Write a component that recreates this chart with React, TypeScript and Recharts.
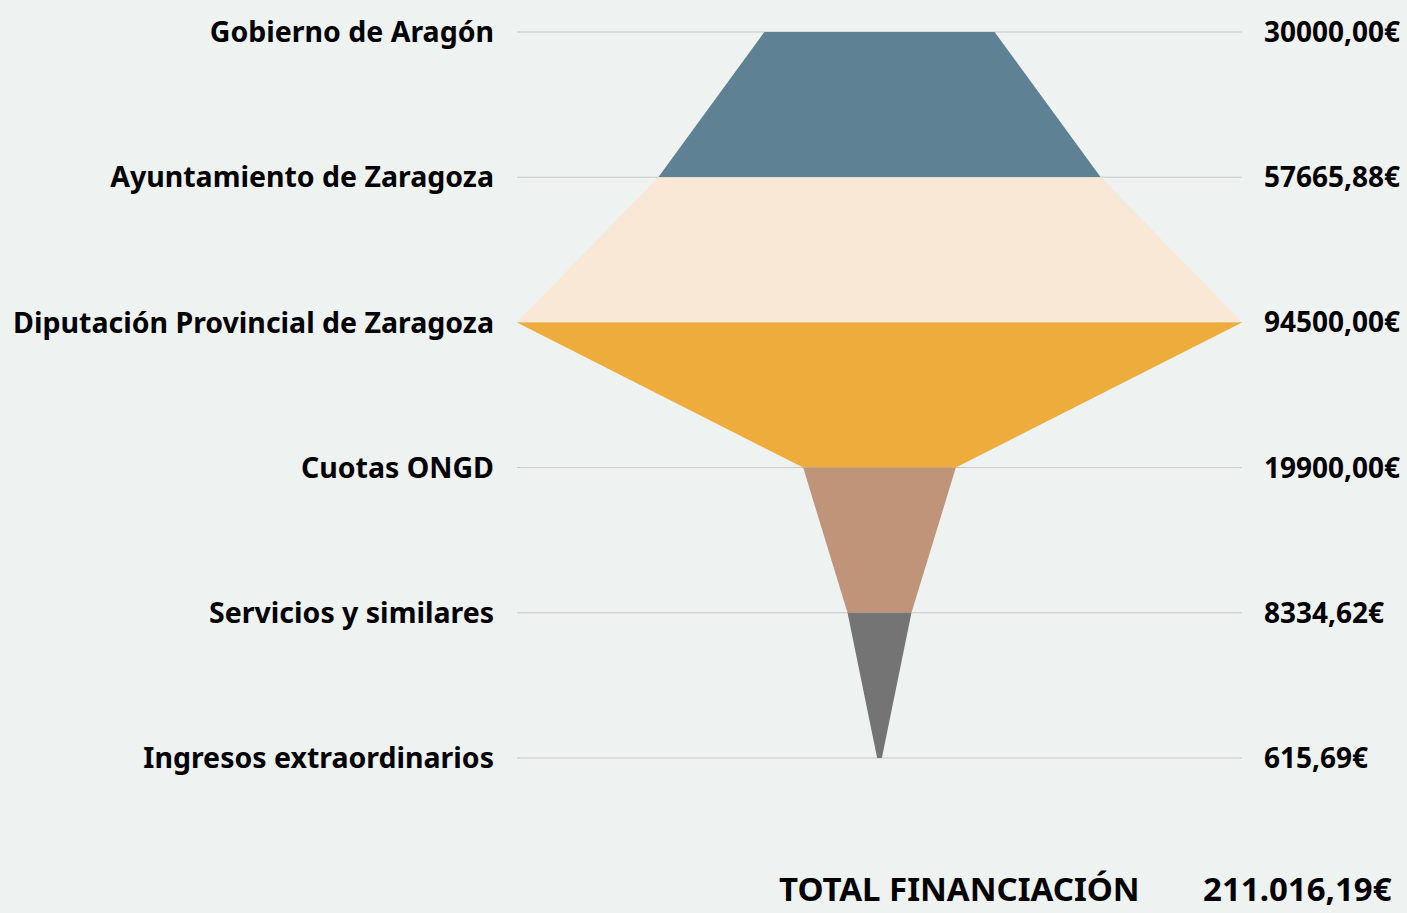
import React from "react";
import { ComposedChart, Area, XAxis, YAxis, CartesianGrid } from "recharts";

const categories = [
  "Gobierno de Aragón",
  "Ayuntamiento de Zaragoza",
  "Diputación Provincial de Zaragoza",
  "Cuotas ONGD",
  "Servicios y similares",
  "Ingresos extraordinarios",
];
const amounts = [30000, 57665.88, 94500, 19900, 8334.62, 615.69];
const segmentColors = ["#5e8294", "#f8e8d5", "#eeac3c", "#c09479", "#747474"];
const totalLabel = "TOTAL FINANCIACIÓN";

const fmt = (v: number) => v.toFixed(2).replace(".", ",") + "€";
const fmtThousands = (v: number) => {
  const [i, d] = v.toFixed(2).split(".");
  return i.replace(/\B(?=(\d{3})+(?!\d))/g, ".") + "," + d + "€";
};
const total = amounts.reduce((a, b) => a + b, 0);
const maxV = Math.max(...amounts);

const data = categories.map((c, idx) => {
  const row: any = { idx, name: c };
  const v = amounts[idx];
  for (let s = 0; s < segmentColors.length; s++) {
    row["s" + s] = idx === s || idx === s + 1 ? [-v / 2, v / 2] : null;
  }
  return row;
});

const font = "'Noto Sans', 'Open Sans', sans-serif";

export default function App() {
  return (
    <div
      style={{
        position: "fixed",
        left: 0,
        top: 0,
        width: 1407,
        height: 913,
        background: "#eef2f0",
        fontFamily: font,
        overflow: "hidden",
      }}
    >
      <div style={{ position: "absolute", left: 8, top: 8 }}>
        <ComposedChart
          width={1399}
          height={905}
          data={data}
          layout="vertical"
          margin={{ top: 24, right: 0, bottom: 155, left: 0 }}
        >
          <CartesianGrid horizontal vertical={false} stroke="#c8c8c8" />
          <XAxis type="number" hide domain={[-maxV / 2, maxV / 2]} />
          <YAxis
            yAxisId="left"
            orientation="left"
            type="number"
            dataKey="idx"
            domain={[0, categories.length - 1]}
            ticks={categories.map((_, i) => i)}
            width={509}
            axisLine={false}
            tickLine={false}
            tickSize={0}
            tickMargin={23}
            tickFormatter={(i: number) => categories[i]}
            tick={{ fill: "#000", fontSize: 28.5, fontWeight: 700, fontFamily: font }}
          />
          <YAxis
            yAxisId="right"
            orientation="right"
            type="number"
            dataKey="idx"
            domain={[0, categories.length - 1]}
            ticks={categories.map((_, i) => i)}
            width={165}
            axisLine={false}
            tickLine={false}
            tickSize={0}
            tickMargin={22}
            tickFormatter={(i: number) => fmt(amounts[i])}
            tick={{ fill: "#000", fontSize: 28, fontWeight: 700, fontFamily: font }}
          />
          {segmentColors.map((col, s) => (
            <Area
              key={s}
              yAxisId="left"
              dataKey={"s" + s}
              fill={col}
              fillOpacity={1}
              stroke="none"
              isAnimationActive={false}
              dot={false}
              activeDot={false}
              type="linear"
            />
          ))}
        </ComposedChart>
      </div>
      <div
        style={{
          position: "absolute",
          left: 779,
          top: 871,
          fontSize: 33,
          fontWeight: 700,
          color: "#000",
          whiteSpace: "nowrap",
          lineHeight: "36px",
        }}
      >
        {totalLabel}
      </div>
      <div
        style={{
          position: "absolute",
          left: 1203,
          top: 871,
          fontSize: 33,
          fontWeight: 700,
          color: "#000",
          whiteSpace: "nowrap",
          lineHeight: "36px",
        }}
      >
        {fmtThousands(total)}
      </div>
    </div>
  );
}
